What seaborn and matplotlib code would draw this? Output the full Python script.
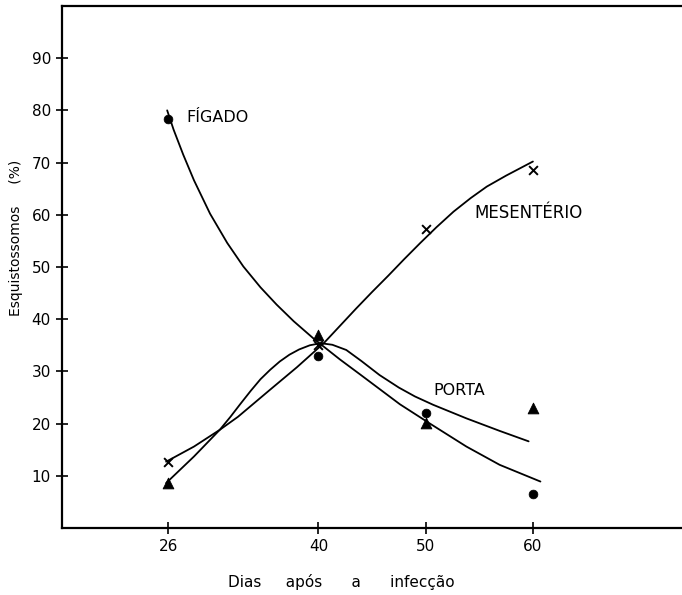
import pandas as pd
import seaborn as sns
import matplotlib.pyplot as plt

# Observed points (days after infection)
dias = [26, 40, 50, 60]
figado = [78.3, 33.0, 22.1, 6.6]
porta = [8.6, 37.0, 20.1, 23.0]
mesenterio = [12.7, 35.0, 57.2, 68.6]

# Hand-drawn curves
figado_cx = [25.9, 26.5, 27.4, 28.4, 29.9, 31.5, 33.0, 34.6, 36.1, 37.7, 39.6,
             40.4, 42.0, 43.9, 47.6, 50.4, 53.8, 56.9, 60.7]
figado_cy = [80.0, 76.3, 71.5, 66.6, 60.2, 54.6, 50.1, 46.1, 42.8, 39.6, 36.2,
             34.9, 32.3, 29.4, 23.7, 20.0, 15.6, 12.1, 8.9]

porta_cx = [25.8, 28.4, 30.8, 31.8, 32.7, 33.7, 34.6, 35.5, 36.4, 37.3, 38.2,
            39.2, 40.2, 41.3, 42.6, 44.0, 45.7, 47.5, 49.0, 50.7, 53.8, 56.9,
            59.6]
porta_cy = [8.6, 13.7, 18.8, 21.3, 23.7, 26.3, 28.5, 30.3, 31.9, 33.2, 34.2,
            35.0, 35.4, 35.1, 34.1, 32.0, 29.3, 26.9, 25.2, 23.6, 21.0, 18.6,
            16.6]

mes_cx = [25.8, 28.4, 30.8, 32.5, 35.5, 38.0, 40.5, 42.0, 43.5, 45.0, 46.5,
          48.0, 49.5, 51.0, 52.6, 54.2, 55.7, 57.5, 60.0]
mes_cy = [12.7, 15.6, 18.8, 21.3, 26.5, 30.8, 35.4, 38.7, 42.0, 45.2, 48.3,
          51.5, 54.6, 57.6, 60.6, 63.2, 65.4, 67.5, 70.2]

xticks = [26, 40, 50, 60]
yticks = [10, 20, 30, 40, 50, 60, 70, 80, 90]

sns.set_style("ticks")
plt.rcParams["font.family"] = ["DejaVu Sans"]
plt.rcParams["text.color"] = "black"
plt.rcParams["axes.labelcolor"] = "black"
plt.rcParams["xtick.color"] = "black"
plt.rcParams["ytick.color"] = "black"

fig = plt.figure(figsize=(6.82, 5.95), dpi=100)
ax = fig.add_axes([0.091, 0.1126, 0.909, 0.8774])

# curves
for cx, cy in [(figado_cx, figado_cy), (porta_cx, porta_cy), (mes_cx, mes_cy)]:
    curve = pd.DataFrame({"x": cx, "y": cy})
    sns.lineplot(data=curve, x="x", y="y", sort=False, color="black",
                 linewidth=1.3, ax=ax, estimator=None)
for ln in ax.lines:
    ln.set_solid_joinstyle("round")

# points
pts = pd.DataFrame({"dias": dias, "figado": figado, "porta": porta,
                    "mesenterio": mesenterio})
sns.scatterplot(data=pts, x="dias", y="figado", marker="o", s=40,
                color="black", edgecolor="black", ax=ax, zorder=3)
sns.scatterplot(data=pts, x="dias", y="porta", marker="^", s=60,
                color="black", edgecolor="black", ax=ax, zorder=3)
sns.scatterplot(data=pts, x="dias", y="mesenterio", marker="x", s=40,
                color="black", linewidth=1.4, ax=ax, zorder=3)

# labels for the series
ax.text(27.7, 78.7, "FÍGADO", fontsize=11.5, va="center", ha="left")
ax.text(54.5, 60.3, "MESENTÉRIO", fontsize=12, va="center", ha="left")
ax.text(50.7, 26.3, "PORTA", fontsize=11.5, va="center", ha="left")

ax.set_xlim(16.1, 73.9)
ax.set_ylim(0, 100)
ax.set_xticks(xticks)
ax.set_yticks(yticks)
ax.tick_params(direction="inout", length=9, width=1.2, labelsize=11)
for side in ["left", "bottom", "top"]:
    ax.spines[side].set_linewidth(1.6)
    ax.spines[side].set_color("black")
ax.spines["right"].set_visible(False)

ax.set_xlabel("Dias     após      a      infecção", fontsize=11)
ax.xaxis.set_label_coords(0.45, -0.088)
ax.set_ylabel("Esquistossomos     (%)", fontsize=10)
ax.yaxis.set_label_coords(-0.063, 0.556)

fig.savefig("out.png", dpi=100)
